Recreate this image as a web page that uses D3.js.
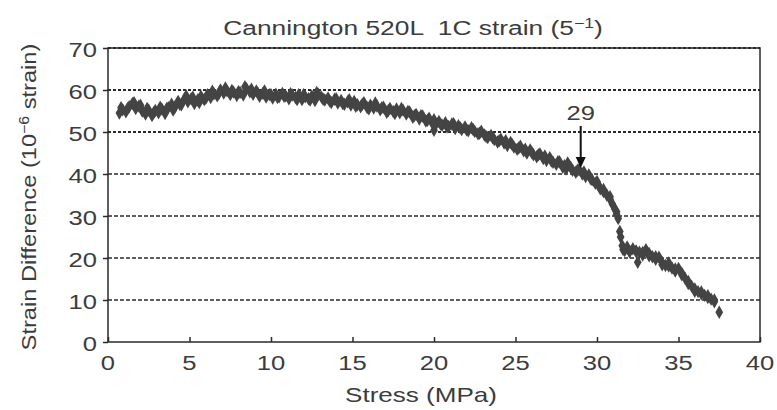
<!DOCTYPE html>
<html>
<head>
<meta charset="utf-8">
<script src="https://cdn.jsdelivr.net/npm/d3@7"></script>
<style>
  html, body { margin: 0; padding: 0; background: #fff; }
  svg { display: block; font-family: "Liberation Sans", Arial, sans-serif; }
  svg text { white-space: pre; }
</style>
</head>
<body>
<svg id="chart" width="777" height="410"></svg>
<script>
// ---- data ----
const title = "Cannington 520L  1C strain (5";
const xLabel = "Stress (MPa)";
const xTicks = [0, 5, 10, 15, 20, 25, 30, 35, 40];
const yTicks = [0, 10, 20, 30, 40, 50, 60, 70];
const heavyGrid = [50, 60, 70];
const lightGrid = [10, 20, 30, 40];
const annotation = { stress: 29, label: "29" };

const stress = [
  0.7,0.9,1.1,1.3,1.5,1.7,1.9,2.1,2.3,2.5,2.7,2.9,3.1,3.3,3.5,3.7,3.9,4.1,4.3,4.5,
  4.7,4.9,5.1,5.3,5.5,5.7,5.9,6.1,6.3,6.5,6.7,6.9,7.1,7.3,7.5,7.7,7.9,8.1,8.3,8.5,
  8.7,8.9,9.1,9.3,9.5,9.7,9.9,10.1,10.3,10.5,10.7,10.9,11.1,11.3,11.5,11.7,11.9,12.1,12.3,12.5,
  12.7,12.9,13.1,13.3,13.5,13.7,13.9,14.1,14.3,14.5,14.7,14.9,15.1,15.3,15.5,15.7,15.9,16.1,16.3,16.5,
  16.7,16.9,17.1,17.3,17.5,17.7,17.9,18.1,18.3,18.5,18.7,18.9,19.1,19.3,19.5,19.7,19.9,20.0,20.1,20.3,
  20.5,20.7,20.9,21.1,21.3,21.5,21.7,21.9,22.1,22.3,22.5,22.7,22.9,23.1,23.3,23.5,23.7,23.9,24.1,24.3,
  24.5,24.7,24.9,25.1,25.3,25.5,25.7,25.9,26.1,26.3,26.5,26.7,26.9,27.1,27.3,27.5,27.7,27.9,28.1,28.2,
  28.3,28.5,28.7,28.9,29.1,29.3,29.5,29.7,29.9,30.1,30.2,30.4,30.6,30.8,30.95,31.1,31.2,31.3,31.4,31.45,
  31.55,31.7,31.85,32.0,32.2,32.4,32.5,32.6,32.8,33.0,33.2,33.4,33.6,33.8,34.0,34.2,34.4,34.6,34.8,35.0,
  35.2,35.4,35.6,35.8,36.0,36.2,36.4,36.6,36.8,37.0,37.2,37.5
];
const strainDiff = [
  54.5,55.3,54.8,56.0,56.8,55.6,56.2,55.0,54.3,55.2,53.9,55.1,54.6,55.5,54.4,55.8,56.6,55.9,57.3,56.5,
  58.0,57.2,57.9,56.8,57.6,58.5,57.7,58.9,58.2,59.1,58.6,60.0,59.3,59.8,58.9,59.5,58.7,59.4,58.8,60.3,
  59.6,59.0,59.8,58.5,59.2,58.3,58.9,58.1,59.0,58.4,59.2,58.6,57.9,58.8,58.2,58.9,57.7,58.4,57.9,58.6,
  57.5,59.0,58.3,57.6,58.1,57.0,57.8,56.9,57.5,56.6,57.2,56.4,57.3,56.5,56.0,57.0,55.8,56.4,55.7,56.2,
  55.3,55.9,54.7,55.6,54.9,55.5,54.6,55.2,54.3,54.8,53.5,54.2,53.1,53.8,52.6,53.3,52.1,50.4,51.7,52.5,
  51.6,52.2,51.3,51.9,50.8,51.5,50.6,51.2,50.3,51.0,50.1,49.6,50.2,49.3,48.7,49.2,48.2,47.6,48.3,47.4,
  46.8,47.5,46.4,45.9,46.6,45.5,45.0,45.7,44.6,44.1,44.8,43.7,43.2,43.9,42.8,42.3,42.9,41.6,41.2,42.6,
  42.0,40.9,40.4,41.0,40.0,39.4,39.8,38.6,37.8,37.3,36.5,35.8,35.0,34.0,32.8,31.6,30.4,29.4,26.3,25.0,
  22.9,21.8,22.6,21.5,22.2,21.6,19.0,21.4,20.7,22.0,21.1,20.3,19.7,20.2,18.9,18.2,18.8,17.6,16.9,17.5,
  16.4,15.2,13.9,13.3,12.6,12.0,11.5,11.1,10.6,10.2,9.6,7.1
];
// second, interleaved pass of readings
const stress2 = [
  0.8,1.2,1.6,2.0,2.4,2.8,3.2,3.6,4.0,4.4,4.8,5.2,5.6,6.0,6.4,6.8,7.2,7.6,8.0,8.4,
  8.8,9.2,9.6,10.0,10.4,10.8,11.2,11.6,12.0,12.4,12.8,13.2,13.6,14.0,14.4,14.8,15.2,15.6,16.0,16.4,
  16.8,17.2,17.6,18.0,18.4,18.8,19.2,19.6,20.0,20.4,20.8,21.2,21.6,22.0,22.4,22.8,23.2,23.6,24.0,24.4,
  24.8,25.2,25.6,26.0,26.4,26.8,27.2,27.6,28.0,28.4,28.8,29.2,29.6,30.0,30.4,30.8,31.2,31.6,32.0,32.4,
  32.8,33.2,33.6,34.0,34.4,34.8,35.2,35.6,36.0,36.4,36.8,37.2
];
const strainDiff2 = [
  55.8,55.6,57.0,56.3,55.6,54.6,55.9,55.6,55.2,56.6,58.6,58.3,57.0,58.0,59.7,59.2,60.5,59.9,59.6,60.8,
  60.2,59.2,59.8,58.9,58.2,58.5,59.1,57.7,58.9,57.6,59.4,57.8,57.4,57.9,56.8,57.7,56.1,56.6,55.5,56.9,
  55.8,55.1,54.4,55.6,54.9,53.9,53.9,52.8,52.9,51.9,51.2,52.0,51.0,50.5,50.6,49.7,48.9,48.6,47.9,47.9,
  47.0,46.2,45.9,45.1,44.6,44.3,43.1,42.9,42.0,41.5,40.9,40.5,38.9,38.2,36.3,34.6,31.0,22.0,21.6,21.6,
  21.3,20.5,20.3,18.4,18.1,17.4,16.0,14.4,12.1,11.9,11.0,10.0
];
const points = stress.map((s, i) => ({ s, d: strainDiff[i] }))
  .concat(stress2.map((s, i) => ({ s, d: strainDiff2[i] })));

// ---- layout ----
const svg = d3.select("#chart");
const m = { left: 108, right: 760, top: 48, bottom: 342 };
const x = d3.scaleLinear().domain([0, 40]).range([m.left, m.right]);
const y = d3.scaleLinear().domain([0, 70]).range([m.bottom, m.top]);
const ink = "#2a2a2a";
const textCol = "#3c3c3c";
const FS = 21;
const SX = 1.22;

// grid lines
svg.append("g").selectAll("line").data(lightGrid).join("line")
  .attr("x1", m.left).attr("x2", m.right)
  .attr("y1", d => y(d)).attr("y2", d => y(d))
  .attr("stroke", ink).attr("stroke-width", 1.3).attr("stroke-dasharray", "4,2");
svg.append("g").selectAll("line").data(heavyGrid).join("line")
  .attr("x1", m.left).attr("x2", m.right)
  .attr("y1", d => y(d)).attr("y2", d => y(d))
  .attr("stroke", ink).attr("stroke-width", 2).attr("stroke-dasharray", "3,2");

// frame
svg.append("rect")
  .attr("x", m.left).attr("y", m.top)
  .attr("width", m.right - m.left).attr("height", m.bottom - m.top)
  .attr("fill", "none").attr("stroke", ink).attr("stroke-width", 1.5);

// y axis ticks (outward) + labels
const yAxis = d3.axisLeft(y).tickValues(yTicks).tickSize(5).tickFormat("");
const gy = svg.append("g").attr("transform", `translate(${m.left},0)`).call(yAxis);
gy.select(".domain").remove();
gy.selectAll("line").attr("stroke", ink).attr("stroke-width", 1.5);
svg.append("g").selectAll("text").data(yTicks).join("text")
  .attr("transform", d => `translate(97,${y(d) + 9}) scale(${SX},1)`)
  .attr("text-anchor", "end").attr("font-size", FS).attr("fill", textCol)
  .text(d => d3.format("d")(d));

// x axis ticks (inward) + labels
const xAxis = d3.axisBottom(x).tickValues(xTicks).tickSize(-5).tickFormat("");
const gx = svg.append("g").attr("transform", `translate(0,${m.bottom})`).call(xAxis);
gx.select(".domain").remove();
gx.selectAll("line").attr("stroke", ink).attr("stroke-width", 1.5);
svg.append("g").selectAll("text").data(xTicks).join("text")
  .attr("transform", d => `translate(${x(d)},370) scale(${SX},1)`)
  .attr("text-anchor", "middle").attr("font-size", FS).attr("fill", textCol)
  .text(d => d3.format("d")(d));

// points
svg.append("g").selectAll("path").data(points).join("path")
  .attr("d", d3.symbol().type(d3.symbolDiamond).size(52))
  .attr("transform", d => `translate(${x(d.s)},${y(d.d)})`)
  .attr("fill", "#444");

// annotation arrow
const ax = x(annotation.stress);
svg.append("text").attr("transform", `translate(${ax},120) scale(${SX},1)`).attr("text-anchor", "middle")
  .attr("font-size", FS).attr("fill", textCol).text(annotation.label);
svg.append("line").attr("x1", ax).attr("x2", ax).attr("y1", 126).attr("y2", 160)
  .attr("stroke", "#111").attr("stroke-width", 2);
svg.append("path")
  .attr("d", `M${ax - 5},${157} L${ax + 5},${157} L${ax},${168} Z`)
  .attr("fill", "#111");

// helper: stretch a text horizontally to a target width
function fit(textSel, cx, cy, target, rot) {
  const w = textSel.node().getComputedTextLength();
  textSel.attr("transform", `translate(${cx},${cy})${rot ? " rotate(" + rot + ")" : ""} scale(${target / w},1)`);
}

// title
const t = svg.append("text").attr("text-anchor", "middle")
  .attr("font-size", FS).attr("fill", textCol);
t.append("tspan").text(title);
t.append("tspan").attr("dy", -7).attr("font-size", 14).text("\u22121");
t.append("tspan").attr("dy", 7).text(")");
fit(t, 413, 35, 380);

// x label
const xl = svg.append("text").attr("text-anchor", "middle")
  .attr("font-size", FS).attr("fill", textCol).text(xLabel);
fit(xl, 421, 402, 152);

// y label
const yl = svg.append("text").attr("text-anchor", "middle").attr("font-size", FS).attr("fill", textCol);
yl.append("tspan").text("Strain Difference (10");
yl.append("tspan").attr("dy", -7).attr("font-size", 14).text("\u22126");
yl.append("tspan").attr("dy", 7).text(" strain)");
fit(yl, 36, 197, 307, -90);
</script>
</body>
</html>
